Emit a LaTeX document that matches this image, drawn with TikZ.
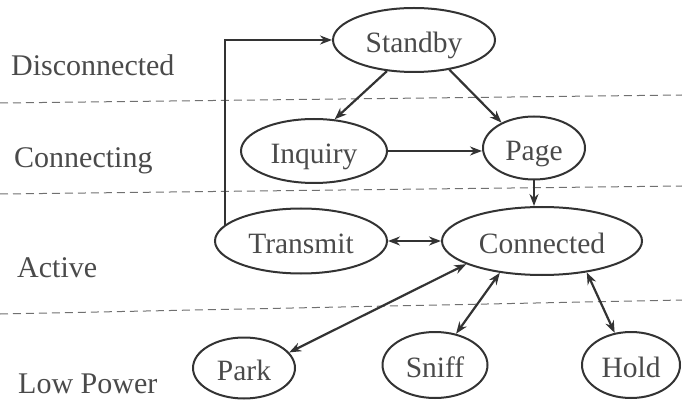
\documentclass[tikz,border=0pt]{standalone}
\usepackage{fontspec}
\setmainfont{Liberation Serif}
\usetikzlibrary{shapes.geometric,arrows.meta}
\definecolor{ink}{HTML}{333333}
\definecolor{txt}{HTML}{4A4A4A}
\tikzset{
  state/.style={ellipse, draw=ink, line width=2pt, inner sep=0pt, text=txt,
    text height=25pt, text depth=0pt,
    font=\fontsize{29.5}{31}\selectfont},
  zone/.style={anchor=base west, text=txt, inner sep=0pt, font=\fontsize{30}{32}\selectfont},
  sep/.style={draw=ink!70, line width=1pt, dash pattern=on 8pt off 5pt},
  conn/.style={draw=ink, line width=2.2pt, -{Stealth[length=12pt,width=9pt]}},
  bi/.style={draw=ink, line width=2.2pt, {Stealth[length=12pt,width=9pt]}-{Stealth[length=12pt,width=9pt]}}
}
\begin{document}
\begin{tikzpicture}[x=1pt,y=-1pt]
\useasboundingbox (0,0) rectangle (682,403);
% separators
\coordinate (s1a) at (0,103); \coordinate (s1b) at (682,95);
\coordinate (s2a) at (0,194); \coordinate (s2b) at (682,186);
\coordinate (s3a) at (0,314); \coordinate (s3b) at (682,300);
\draw[sep] (s1a) -- (s1b);
\draw[sep] (s2a) -- (s2b);
\draw[sep] (s3a) -- (s3b);
% zone labels
\node[zone] (zdis) at (11,76) {Disconnected};
\node[zone] (zcon) at (14,168) {Connecting};
\node[zone] (zact) at (17,277) {Active};
\node[zone] (zlow) at (18,393) {Low Power};
% states
\node[state, minimum width=162pt, minimum height=64pt] (standby) at (414,40) {Standby};
\node[state, minimum width=146pt, minimum height=64pt] (inquiry) at (314,151) {Inquiry};
\node[state, minimum width=102pt, minimum height=63pt] (page) at (534,148) {Page};
\node[state, minimum width=172pt, minimum height=65pt] (transmit) at (301,241) {Transmit};
\node[state, minimum width=200pt, minimum height=68pt] (connected) at (542,241) {Connected};
\node[state, minimum width=102pt, minimum height=61pt] (park) at (244,368) {Park};
\node[state, minimum width=105pt, minimum height=66pt] (sniff) at (435,365) {Sniff};
\node[state, minimum width=98pt, minimum height=66pt] (hold) at (631,365) {Hold};
% connectors
\draw[conn] (transmit.168) -- (transmit.168 |- standby.west) -- (standby.west);
\draw[conn] (standby.229) -- (inquiry.57);
\draw[conn] (standby.320) -- (page.142);
\draw[conn] (inquiry.east) -- (inquiry.east -| page.west);
\draw[conn] (page.south) -- (page.south |- connected.north);
\draw[bi] (transmit.east) -- (connected.west);
\draw[bi] (park.19) -- (connected.197);
\draw[bi] (sniff.56) -- (connected.217);
\draw[bi] (hold.117) -- (connected.325);
\end{tikzpicture}
\end{document}
